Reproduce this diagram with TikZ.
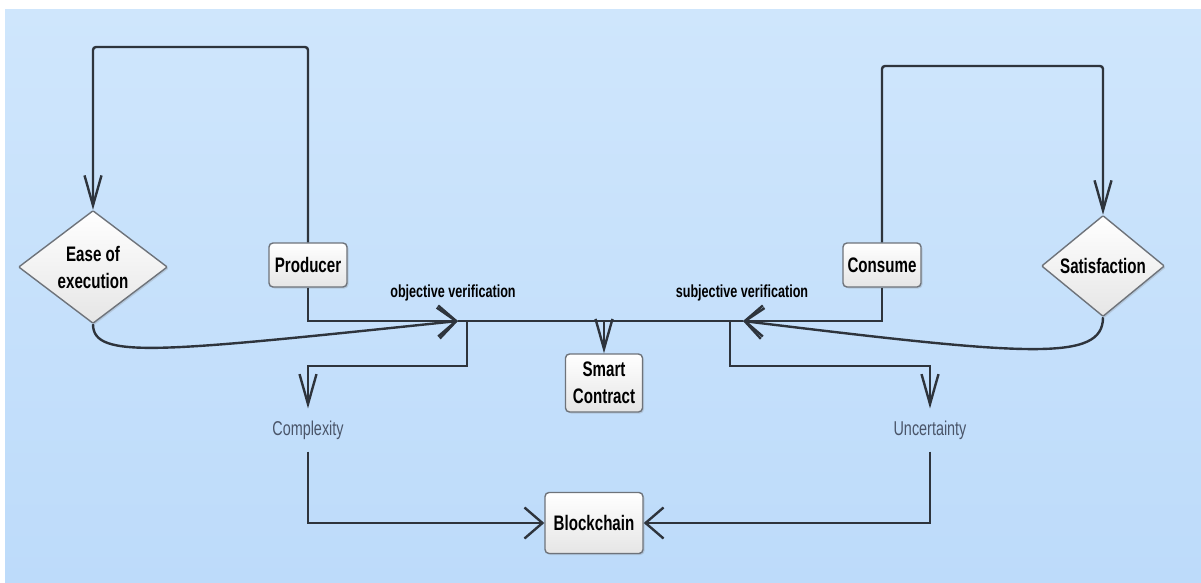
\documentclass[tikz,border=0pt]{standalone}
\usepackage{fontspec}
\usetikzlibrary{arrows.meta,shapes.geometric,shadows}
\newfontfamily\diagfont[FakeStretch=0.72]{Liberation Sans}

\definecolor{bgtop}{HTML}{CFE6FC}
\definecolor{bgbot}{HTML}{BDDBFA}
\definecolor{wire}{HTML}{2E343C}
\definecolor{rim}{HTML}{6E737A}
\definecolor{softtext}{HTML}{4A5569}

\tikzset{
  box/.style={draw=rim, line width=1.4pt, rounded corners=4pt,
    top color=white, bottom color=black!10, inner sep=2pt,
    drop shadow={opacity=0.25, shadow xshift=1.5pt, shadow yshift=-1.5pt},
    font=\diagfont\bfseries\fontsize{21}{27}\selectfont, align=center},
  choice/.style={box, diamond, rounded corners=1pt, inner sep=0pt},
  tag/.style={font=\diagfont\bfseries\fontsize{17.5}{20}\selectfont},
  factor/.style={font=\diagfont\fontsize{20}{22}\selectfont, text=softtext, inner sep=12pt},
  wire/.style={draw=wire, line width=2.4pt},
  htip/.style={wire, -{Straight Barb[length=18pt,width=31pt]}},
  vtip/.style={wire, -{Straight Barb[length=30pt,width=17pt]}}
}

\begin{document}
\begin{tikzpicture}[x=1pt, y=-1pt]
\useasboundingbox (0,0) rectangle (1201,583);
\fill[white] (0,0) rectangle (1201,583);
\shade[top color=bgtop, bottom color=bgbot] (5,10) rectangle (1201,583);

% --- Actors and decisions ---
\node[box, minimum width=78pt, minimum height=44pt] (producer) at (308,265) {Producer};
\node[box, minimum width=78pt, minimum height=44pt] (consume) at (882,265) {Consume};
\node[choice, minimum width=149pt, minimum height=100pt] (ease) at (93,267) {Ease of\\execution};
\node[choice, minimum width=123pt, minimum height=62pt] (satisf) at (1103,266) {Satisfaction};
\node[box, minimum width=77pt, minimum height=58pt] (smart) at (604,383) {Smart\\Contract};
\node[box, minimum width=98pt, minimum height=61pt] (chain) at (594,523) {Blockchain};

% --- Verification labels ---
\node[tag] (objlabel) at (453,293) {objective verification};
\node[tag] (subjlabel) at (742,293) {subjective verification};

% --- Outcomes ---
\node[factor] (cplx) at (308,430) {Complexity};
\node[factor] (uncert) at (930,430) {Uncertainty};

% --- Junction points on the main line ---
\coordinate (objtip) at (458,321);
\coordinate (subjtip) at (743,321);
\coordinate (objfork) at (467,321);
\coordinate (subjfork) at (730,321);
\coordinate (objbend) at (467,366);
\coordinate (subjbend) at (730,366);
\coordinate (lefttop) at (0,47);
\coordinate (righttop) at (0,66);

% --- Feedback loops on top ---
\draw[vtip, rounded corners=3pt] (producer.north) -- (producer.north |- lefttop) -| (ease.north);
\draw[vtip, rounded corners=3pt] (consume.north) -- (consume.north |- righttop) -| (satisf.north);

% --- Main line ---
\draw[htip] (producer.south) |- (objtip);
\draw[htip] (consume.south) |- (subjtip);
\draw[wire] (objtip) -- (subjtip);
\draw[htip] (ease.south) .. controls (93,360) and (160,352) .. (objtip);
\draw[htip] (satisf.south) .. controls (1103,362) and (1030,356) .. (subjtip);
\draw[vtip] (smart.north |- objtip) -- (smart.north);

% --- Branches down to the outcomes ---
\draw[vtip] (objfork) -- (objbend) -| (cplx.north);
\draw[vtip] (subjfork) -- (subjbend) -| (uncert.north);
\draw[htip] (cplx.south) |- (chain.west);
\draw[htip] (uncert.south) |- (chain.east);
\end{tikzpicture}
\end{document}
